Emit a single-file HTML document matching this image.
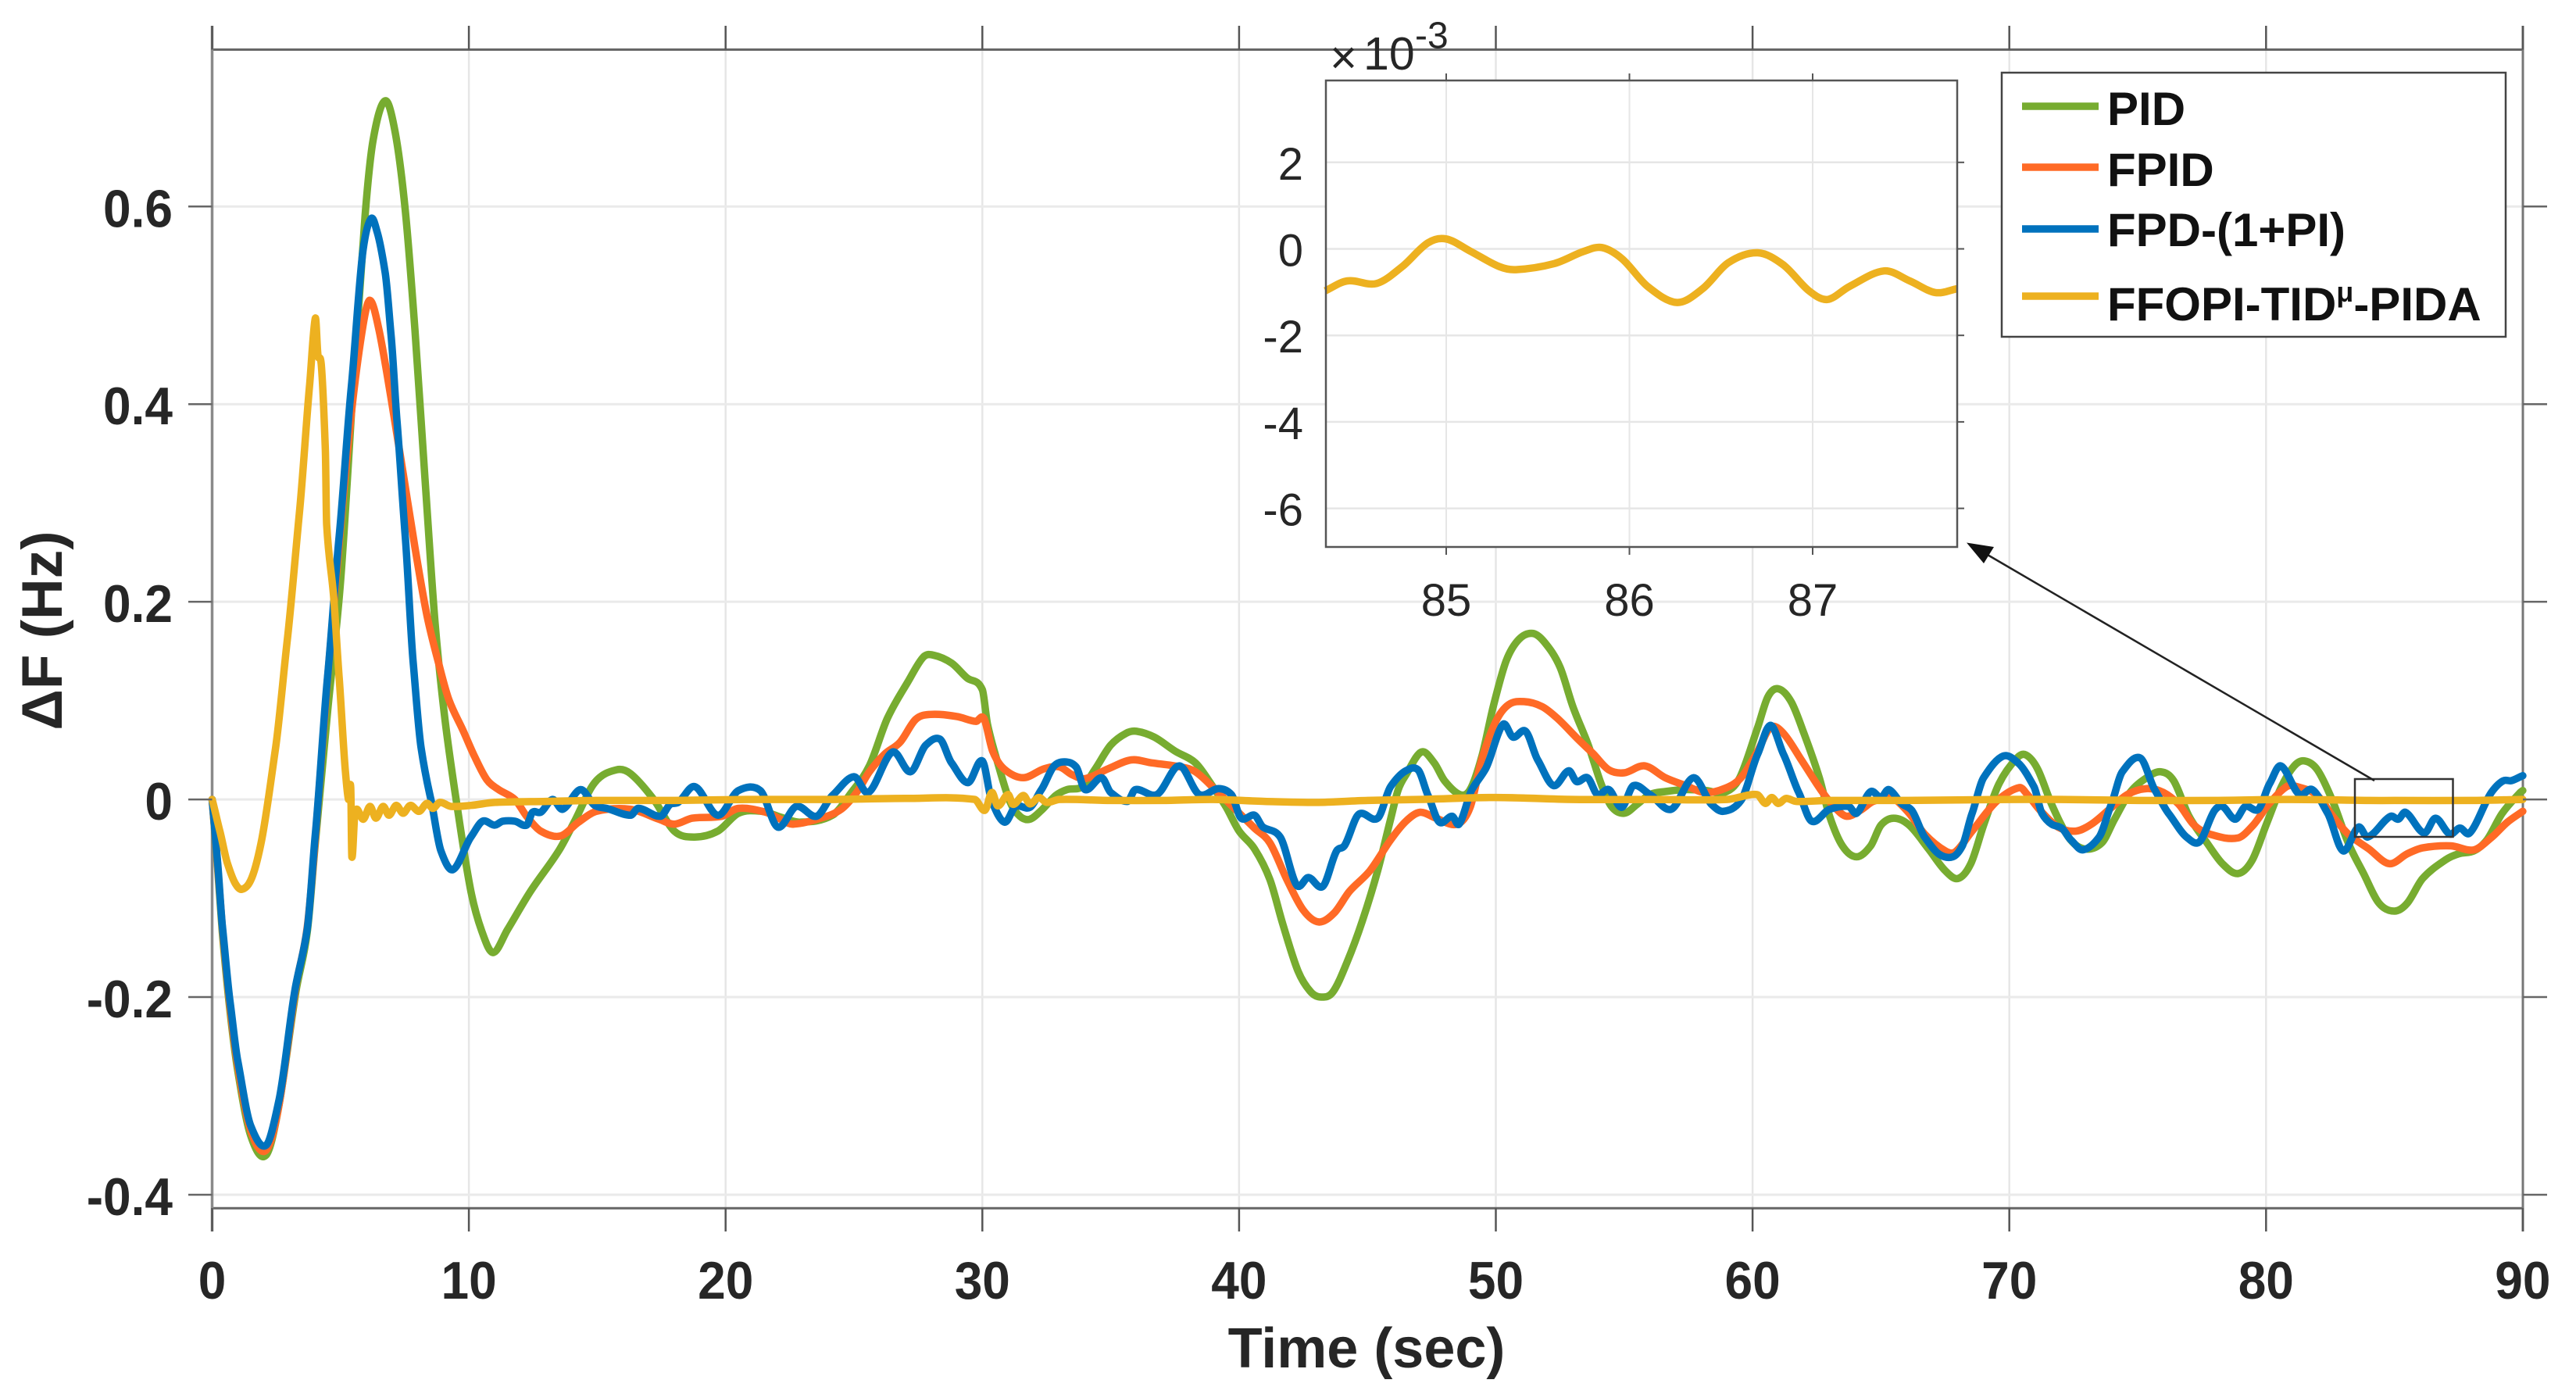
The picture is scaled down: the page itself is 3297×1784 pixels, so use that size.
<!DOCTYPE html>
<html lang="en">
<head>
<meta charset="utf-8">
<title>Frequency deviation response</title>
<style>
html,body{margin:0;padding:0;background:#fff;width:3297px;height:1784px;overflow:hidden}
svg{display:block}
text{font-family:"Liberation Sans",sans-serif}
</style>
</head>
<body>
<svg id="chart" xmlns="http://www.w3.org/2000/svg" width="3297" height="1784" viewBox="0 0 3297 1784">
  <rect width="3297" height="1784" fill="#fff"/>
  <g id="main-grid"></g>
  <g id="main-axes"></g>
  <g id="main-series"></g>
  <g id="main-ticks"></g>
  <text x="1749" y="1750" text-anchor="middle" font-size="72" font-weight="700" fill="#262626">Time (sec)</text>
  <text transform="translate(79,807) rotate(-90)" text-anchor="middle" font-size="73" font-weight="700" fill="#262626">ΔF (Hz)</text>

  <rect x="3014" y="997" width="125.5" height="74" fill="none" stroke="#333" stroke-width="2.5"/>
  <line x1="3039" y1="999" x2="2525" y2="699" stroke="#222" stroke-width="2.5"/>
  <polygon points="2517,694.5 2552,700 2539,721" fill="#111"/>

  <rect x="1697" y="103" width="808" height="597" fill="#fff"/>
  <g id="inset-grid"></g>
  <g id="inset-series"></g>
  <rect x="1697" y="103" width="808" height="597" fill="none" stroke="#555" stroke-width="2.5"/>
  <g id="inset-ticks"></g>
  <text x="1702" y="94" font-size="60" fill="#262626">×</text>
  <text x="1745" y="89" font-size="59" fill="#262626">10</text>
  <text x="1811" y="61.5" font-size="48" fill="#262626">-3</text>

  <g>
    <rect x="2562" y="93" width="645" height="338" fill="#fff" stroke="#444" stroke-width="2.5"/>
    <line x1="2588" x2="2686" y1="136" y2="136" stroke="#77AC30" stroke-width="9.5"/>
    <text x="2697" y="160" font-size="60" font-weight="700" fill="#111">PID</text>
    <line x1="2588" x2="2686" y1="214" y2="214" stroke="#FF6A26" stroke-width="9.5"/>
    <text x="2697" y="238" font-size="60" font-weight="700" fill="#111">FPID</text>
    <line x1="2588" x2="2686" y1="293" y2="293" stroke="#0072BD" stroke-width="9.5"/>
    <text x="2697" y="315" font-size="60" font-weight="700" fill="#111">FPD-(1+PI)</text>
    <line x1="2588" x2="2686" y1="379" y2="379" stroke="#EDB120" stroke-width="9.5"/>
    <text x="2697" y="410" font-size="60" font-weight="700" fill="#111">FFOPI-TID<tspan font-size="36" dy="-24">μ</tspan><tspan dy="24">-PIDA</tspan></text>
  </g>
</svg>
<script>
// Main axis ticks
var xTickValues = [0,10,20,30,40,50,60,70,80,90];
var yTickValues = [-0.4,-0.2,0,0.2,0.4,0.6];
var yTickLabels = ["-0.4","-0.2","0","0.2","0.4","0.6"];

// PID series
var pidTime = [0,0.2,0.4,0.7,1,1.5,2.1,2.6,3.26,3.7,4,4.5,5,5.5,5.96,6.27,6.74,7.13,7.52,7.9,8.29,8.68,9.07,9.6,10.08,10.5,10.94,11.5,12.4,13.5,14.1,14.9,15.75,16.3,17.2,18,18.8,19.7,20.5,21.4,22.16,22.9,24.16,24.9,25.6,26.3,27.1,27.7,28.1,28.8,29.4,30,30.2,30.6,31.07,31.46,31.85,32.3,32.86,33.3,33.9,34.4,35,35.6,36,36.7,37.5,38.3,38.9,39.5,40,40.6,41.2,41.7,42.3,42.8,43.2,43.65,44.2,44.8,45.4,45.9,46.2,46.5,47.1,47.6,48,48.6,49,49.45,49.9,50.4,50.9,51.44,51.9,52.5,53,53.6,54.1,54.5,55,55.5,56,56.6,57.4,58.2,58.9,59.5,60.2,60.6,61,61.5,62,62.6,63,63.5,64.05,64.6,65,65.5,66.1,66.85,67.5,68,68.5,69,69.6,70.3,70.65,71.1,71.65,72.3,72.9,73.6,74.1,74.7,75.35,75.9,76.4,77,77.7,78.3,78.9,79.45,80,80.6,81.1,81.5,82,82.6,83.2,83.8,84.4,85,85.5,86.1,87,87.5,88.1,88.6,89.2,89.9,90];
var pidValues = [0,-0.065,-0.135,-0.215,-0.275,-0.34,-0.36,-0.31,-0.195,-0.135,-0.05,0.09,0.22,0.42,0.591,0.667,0.707,0.675,0.597,0.475,0.325,0.18,0.081,-0.017,-0.093,-0.133,-0.155,-0.132,-0.093,-0.052,-0.023,0.017,0.03,0.026,0,-0.032,-0.038,-0.032,-0.014,-0.012,-0.018,-0.023,-0.016,0.007,0.034,0.082,0.119,0.144,0.146,0.138,0.123,0.111,0.076,0.037,-0.002,-0.017,-0.02,-0.011,0.004,0.01,0.013,0.031,0.055,0.067,0.069,0.063,0.049,0.037,0.016,-0.008,-0.032,-0.05,-0.081,-0.126,-0.174,-0.195,-0.2,-0.195,-0.165,-0.123,-0.072,-0.02,0.01,0.025,0.048,0.037,0.019,0.005,0.01,0.043,0.094,0.14,0.162,0.168,0.159,0.134,0.094,0.055,0.016,-0.007,-0.014,-0.005,0.005,0.008,0.01,0.009,0.007,0.022,0.073,0.104,0.112,0.099,0.067,0.022,-0.017,-0.047,-0.058,-0.047,-0.026,-0.019,-0.026,-0.05,-0.072,-0.08,-0.065,-0.026,0.016,0.042,0.045,0.031,-0.005,-0.038,-0.05,-0.044,-0.02,0.007,0.022,0.028,0.019,-0.017,-0.044,-0.065,-0.075,-0.062,-0.026,0.013,0.034,0.039,0.03,-0.002,-0.044,-0.075,-0.105,-0.113,-0.105,-0.08,-0.061,-0.055,-0.052,-0.041,-0.014,0.007,0.009];

// FPID series
var fpidTime = [0,0.2,0.4,0.7,1,1.5,2.1,2.6,3.26,3.7,4.02,4.49,4.95,5.42,5.88,6.15,6.5,6.97,7.44,7.9,8.37,8.84,9.22,9.77,10.23,10.7,11.16,11.79,12.25,12.8,13.57,14.27,14.97,16.3,17.4,18,18.7,19.86,20.5,21.57,22.14,22.6,23.7,24.5,25.1,25.6,26.2,26.8,27.4,27.97,29,29.75,30.06,30.4,30.84,31.6,32.4,33,33.5,34,34.9,35.8,36.6,37.7,38.3,39.07,39.85,40.6,41.2,41.86,42.5,43.1,43.7,44.3,45.1,45.9,46.5,47.05,47.67,48.5,49,49.45,50,50.5,51.1,51.8,52.4,53.2,53.8,54.4,55,55.8,56.6,57.4,58.15,58.9,59.55,60.2,60.7,61.2,61.9,62.65,63.2,63.66,64.2,64.7,65.45,66.1,66.7,67.5,67.9,68.55,69.5,70.4,70.7,71.2,71.9,72.6,73.2,73.9,74.6,75.35,76,76.6,77.2,77.8,78.9,79.5,80.1,80.8,81.2,82,82.6,83.2,84,84.8,85.5,86.1,87.2,88.1,88.8,89.4,90];
var fpidValues = [0,-0.062,-0.13,-0.21,-0.27,-0.335,-0.355,-0.31,-0.19,-0.13,-0.04,0.12,0.26,0.39,0.48,0.505,0.475,0.406,0.33,0.255,0.186,0.136,0.101,0.07,0.043,0.02,0.01,0,-0.017,-0.032,-0.037,-0.023,-0.012,-0.01,-0.02,-0.025,-0.019,-0.017,-0.009,-0.013,-0.02,-0.025,-0.019,-0.01,0.007,0.028,0.046,0.058,0.081,0.086,0.084,0.079,0.082,0.049,0.031,0.022,0.031,0.033,0.025,0.021,0.031,0.04,0.037,0.033,0.028,0.01,-0.01,-0.029,-0.044,-0.081,-0.112,-0.124,-0.115,-0.093,-0.072,-0.041,-0.022,-0.013,-0.019,-0.025,-0.008,0.04,0.079,0.096,0.099,0.094,0.082,0.061,0.046,0.03,0.027,0.034,0.022,0.014,0.007,0.011,0.022,0.049,0.073,0.067,0.04,0.01,-0.008,-0.017,-0.011,-0.002,0.001,-0.014,-0.035,-0.052,-0.053,-0.032,-0.002,0.012,0.005,-0.011,-0.028,-0.032,-0.025,-0.01,0.005,0.011,0.007,-0.005,-0.026,-0.035,-0.039,-0.026,-0.005,0.013,0.013,0.004,-0.017,-0.035,-0.05,-0.065,-0.055,-0.049,-0.047,-0.051,-0.038,-0.023,-0.012];

// FPD-(1+PI) series
var fpdTime = [0,0.2,0.4,0.7,1,1.5,2.1,2.6,3.26,3.7,4.02,4.49,4.95,5.42,5.88,6.2,6.43,6.74,6.97,7.2,7.52,7.83,8.14,8.52,8.91,9.38,10.08,10.54,11,11.32,11.79,12.25,12.48,12.8,13.26,13.65,14.35,14.9,15.36,16.3,16.6,17.47,17.84,18.15,18.8,19.7,20.5,21.35,22.03,22.76,23.54,24.16,25,25.56,26.5,27.2,27.8,28.35,28.8,29.44,30,30.37,30.87,31.3,31.85,32.3,32.8,33.2,33.65,34,34.65,35,35.65,35.96,36.8,37.67,38.45,39.2,39.7,40.08,40.6,40.93,41.6,42.25,42.7,43.26,43.8,44.1,44.66,45.4,45.9,46.5,46.97,47.36,47.8,48.3,48.57,49.07,49.6,50.28,50.67,51.16,51.63,52.25,52.84,53.15,53.57,53.96,54.4,54.9,55.36,56,56.83,57.7,58.4,58.85,59.55,60.2,60.7,61.2,61.8,62.3,63,63.74,64.05,64.6,65,65.3,65.84,66.2,66.7,67.3,67.8,68.17,68.55,69,69.77,70.34,70.96,71.27,71.65,72.04,72.4,72.85,73.5,73.97,74.4,75.1,75.66,76.2,76.9,77.4,78,78.3,78.8,79.2,79.7,80.14,80.57,81.3,81.8,82.4,83,83.6,83.96,84.85,85.15,85.43,86.16,86.6,87.16,87.55,87.93,88.8,89.25,89.55,90];
var fpdValues = [0,-0.06,-0.128,-0.205,-0.265,-0.33,-0.35,-0.305,-0.188,-0.132,-0.035,0.122,0.267,0.417,0.556,0.588,0.574,0.533,0.47,0.383,0.267,0.139,0.052,0,-0.052,-0.071,-0.038,-0.022,-0.026,-0.022,-0.022,-0.026,-0.013,-0.013,0,-0.01,0.01,-0.006,-0.009,-0.016,-0.009,-0.017,-0.005,-0.003,0.013,-0.016,0.009,0.009,-0.028,-0.007,-0.017,0.004,0.023,0.007,0.048,0.028,0.055,0.061,0.037,0.017,0.039,-0.002,-0.023,-0.007,-0.008,0.01,0.034,0.038,0.033,0.01,0.022,0.007,-0.002,0.01,0.005,0.034,0.005,0.011,0.005,-0.019,-0.016,-0.028,-0.038,-0.087,-0.079,-0.088,-0.052,-0.047,-0.015,-0.019,0.013,0.029,0.03,0.004,-0.023,-0.017,-0.025,0.01,0.031,0.076,0.063,0.069,0.04,0.014,0.029,0.018,0.022,0.005,0.01,-0.008,0.014,0.005,-0.01,0.022,-0.005,-0.012,-0.001,0.046,0.075,0.046,0.007,-0.022,-0.01,-0.007,-0.014,0.008,0.002,0.01,-0.005,-0.011,-0.038,-0.056,-0.058,-0.047,-0.014,0.022,0.044,0.037,0.013,-0.014,-0.025,-0.029,-0.041,-0.051,-0.038,-0.005,0.028,0.042,0.01,-0.014,-0.038,-0.043,-0.011,-0.007,-0.02,-0.007,-0.01,0.016,0.034,0.005,0.01,-0.014,-0.052,-0.028,-0.038,-0.017,-0.02,-0.013,-0.034,-0.019,-0.035,-0.029,-0.034,0.008,0.019,0.019,0.024];

// FFOPI-TID-PIDA series
var ffopiTime = [0,0.3,0.6,0.9,1.15,1.5,1.9,2.47,2.93,3.4,3.79,4.02,4.12,4.25,4.41,4.46,4.72,4.95,5.19,5.31,5.4,5.44,5.57,5.89,6.15,6.38,6.66,6.89,7.17,7.44,7.72,8.06,8.37,8.6,8.87,9.3,10.08,11,13,15,18,21,24,27,29.7,30.1,30.37,30.6,31,31.2,31.6,31.85,32.2,32.5,33,35,37,39,41,43,45,47,50,53,56,59,60.17,60.5,60.75,61,61.3,61.7,63,66,70,72,75,78,81,84,85,88,90];
var ffopiValues = [0,-0.032,-0.065,-0.085,-0.091,-0.082,-0.045,0.052,0.162,0.29,0.417,0.487,0.45,0.44,0.354,0.278,0.209,0.122,0.029,0,0.012,-0.058,-0.012,-0.02,-0.007,-0.019,-0.007,-0.016,-0.006,-0.014,-0.006,-0.012,-0.004,-0.009,-0.003,-0.007,-0.006,-0.003,-0.002,-0.001,-0.001,0,0,0.001,0,-0.011,0.007,-0.0066,0.005,-0.005,0.004,-0.0045,0.002,-0.003,0,-0.001,-0.001,0,-0.002,-0.003,-0.001,0,0.002,0,0,0,0.005,-0.004,0.002,-0.004,0.001,-0.002,-0.001,-0.001,0,0,-0.001,-0.001,0,-0.001,-0.001,-0.001,0];

// Inset ticks and series (values in units of 1e-3)
var insetXTicks = [85,86,87];
var insetYTicks = [-6,-4,-2,0,2];
var insetYLabels = ["-6","-4","-2","0","2"];
var insetTime = [84.34,84.46,84.62,84.76,84.9,85,85.13,85.29,85.38,85.59,85.75,85.85,85.96,86.1,86.26,86.4,86.54,86.7,86.84,86.98,87.08,87.2,87.39,87.53,87.67,87.79];
var insetValues = [-0.97,-0.74,-0.8,-0.41,0.14,0.23,-0.05,-0.41,-0.48,-0.34,-0.06,0.03,-0.23,-0.87,-1.24,-0.92,-0.32,-0.09,-0.37,-0.97,-1.17,-0.87,-0.51,-0.74,-1.01,-0.92];

var NS = "http://www.w3.org/2000/svg";
function xMain(t){ return 271.5 + 32.86 * t; }
function yMain(v){ return 1023.1 - 1264.7 * v; }
function xInset(t){ return 1851 + 234.5 * (t - 85); }
function yInset(v){ return 318.5 - 55.35 * v; }

function make(tag, attrs, parent){
  var el = document.createElementNS(NS, tag);
  for (var k in attrs) el.setAttribute(k, attrs[k]);
  parent.appendChild(el);
  return el;
}
function curve(xs, ys, fx, fy, k){
  var px = xs.map(fx), py = ys.map(fy), n = px.length;
  var d = "M" + px[0].toFixed(1) + " " + py[0].toFixed(1);
  function slope(i){
    var a = Math.max(0, i - 1), b = Math.min(n - 1, i + 1);
    return (py[b] - py[a]) / (px[b] - px[a]);
  }
  for (var i = 0; i < n - 1; i++){
    var dx = px[i + 1] - px[i];
    d += "C" + (px[i] + dx / 3).toFixed(1) + " " + (py[i] + k * slope(i) * dx / 3).toFixed(1) + " " +
         (px[i + 1] - dx / 3).toFixed(1) + " " + (py[i + 1] - k * slope(i + 1) * dx / 3).toFixed(1) + " " +
         px[i + 1].toFixed(1) + " " + py[i + 1].toFixed(1);
  }
  return d;
}

var gridG = document.getElementById("main-grid");
var axesG = document.getElementById("main-axes");
var ticksG = document.getElementById("main-ticks");
var seriesG = document.getElementById("main-series");
var textFill = "#262626";

xTickValues.forEach(function(t){
  if (t > 0 && t < 90){
    var g = make("line", {x1:xMain(t), x2:xMain(t), y1:63.5, y2:1546, stroke:"#e6e6e6", "stroke-width":2.5}, gridG);
    
    
  }
  var tb = make("line", {x1:xMain(t), x2:xMain(t), y1:1546, y2:1576, stroke:"#555", "stroke-width":2.5}, ticksG);
  
  
  var tt = make("line", {x1:xMain(t), x2:xMain(t), y1:33, y2:63.5, stroke:"#555", "stroke-width":2.5}, ticksG);
  
  
  var lb = make("text", {transform:"translate(" + xMain(t) + ",1662) scale(1,1.06)", "text-anchor":"middle", "font-size":64, "font-weight":700, fill:textFill}, ticksG);
  
  
  lb.textContent = String(t);
});

yTickValues.forEach(function(v, i){
  var g = make("line", {x1:271.5, x2:3229, y1:yMain(v), y2:yMain(v), stroke:"#eaeaea", "stroke-width":3}, gridG);
  
  
  var tl = make("line", {x1:241, x2:271.5, y1:yMain(v), y2:yMain(v), stroke:"#666", "stroke-width":2.5}, ticksG);
  
  
  var tr = make("line", {x1:3229, x2:3260, y1:yMain(v), y2:yMain(v), stroke:"#666", "stroke-width":2.5}, ticksG);
  
  
  var lb = make("text", {transform:"translate(221," + (yMain(v) + 26) + ") scale(1,1.06)", "text-anchor":"end", "font-size":64, "font-weight":700, fill:textFill}, ticksG);
  
  
  lb.textContent = yTickLabels[i];
});

var topLine = make("line", {x1:271.5, x2:3229, y1:63.5, y2:63.5, stroke:"#666", "stroke-width":3}, axesG);


var bottomLine = make("line", {x1:271.5, x2:3229, y1:1546.3, y2:1546.3, stroke:"#666", "stroke-width":3}, axesG);


var leftLine = make("line", {x1:271.5, x2:271.5, y1:33, y2:1576, stroke:"#8a8a8a", "stroke-width":3.5}, axesG);


var rightLine = make("line", {x1:3229, x2:3229, y1:33, y2:1576, stroke:"#777", "stroke-width":3}, axesG);



var linePid = make("path", {d:curve(pidTime, pidValues, xMain, yMain, 1), fill:"none", stroke:"#77AC30", "stroke-width":9.5, "stroke-linejoin":"round", "stroke-linecap":"round"}, seriesG);


var lineFpid = make("path", {d:curve(fpidTime, fpidValues, xMain, yMain, 1), fill:"none", stroke:"#FF6A26", "stroke-width":9.5, "stroke-linejoin":"round", "stroke-linecap":"round"}, seriesG);


var lineFpd = make("path", {d:curve(fpdTime, fpdValues, xMain, yMain, 0.85), fill:"none", stroke:"#0072BD", "stroke-width":9.5, "stroke-linejoin":"round", "stroke-linecap":"round"}, seriesG);


var lineFfopi = make("path", {d:curve(ffopiTime, ffopiValues, xMain, yMain, 0.9), fill:"none", stroke:"#EDB120", "stroke-width":9.5, "stroke-linejoin":"round", "stroke-linecap":"round"}, seriesG);



var insetGrid = document.getElementById("inset-grid");
var insetTicks = document.getElementById("inset-ticks");
var insetSeries = document.getElementById("inset-series");

insetXTicks.forEach(function(t){
  var g = make("line", {x1:xInset(t), x2:xInset(t), y1:103, y2:700, stroke:"#e6e6e6", "stroke-width":2}, insetGrid);
  
  
  var tt = make("line", {x1:xInset(t), x2:xInset(t), y1:94, y2:103, stroke:"#555", "stroke-width":2}, insetTicks);
  
  
  var tb = make("line", {x1:xInset(t), x2:xInset(t), y1:700, y2:710, stroke:"#555", "stroke-width":2}, insetTicks);
  
  
  var lb = make("text", {x:xInset(t), y:788, "text-anchor":"middle", "font-size":58, fill:textFill}, insetTicks);
  
  
  lb.textContent = String(t);
});

insetYTicks.forEach(function(v, i){
  var g = make("line", {x1:1697, x2:2505, y1:yInset(v), y2:yInset(v), stroke:"#e6e6e6", "stroke-width":2.5}, insetGrid);
  
  
  var tr = make("line", {x1:2505, x2:2514, y1:yInset(v), y2:yInset(v), stroke:"#555", "stroke-width":2}, insetTicks);
  
  
  var lb = make("text", {x:1668, y:yInset(v) + 22, "text-anchor":"end", "font-size":58, fill:textFill}, insetTicks);
  
  
  lb.textContent = insetYLabels[i];
});

var lineInset = make("path", {d:curve(insetTime, insetValues, xInset, yInset, 1), fill:"none", stroke:"#EDB120", "stroke-width":9.5, "stroke-linejoin":"round", "stroke-linecap":"butt"}, insetSeries);


</script>
</body>
</html>
